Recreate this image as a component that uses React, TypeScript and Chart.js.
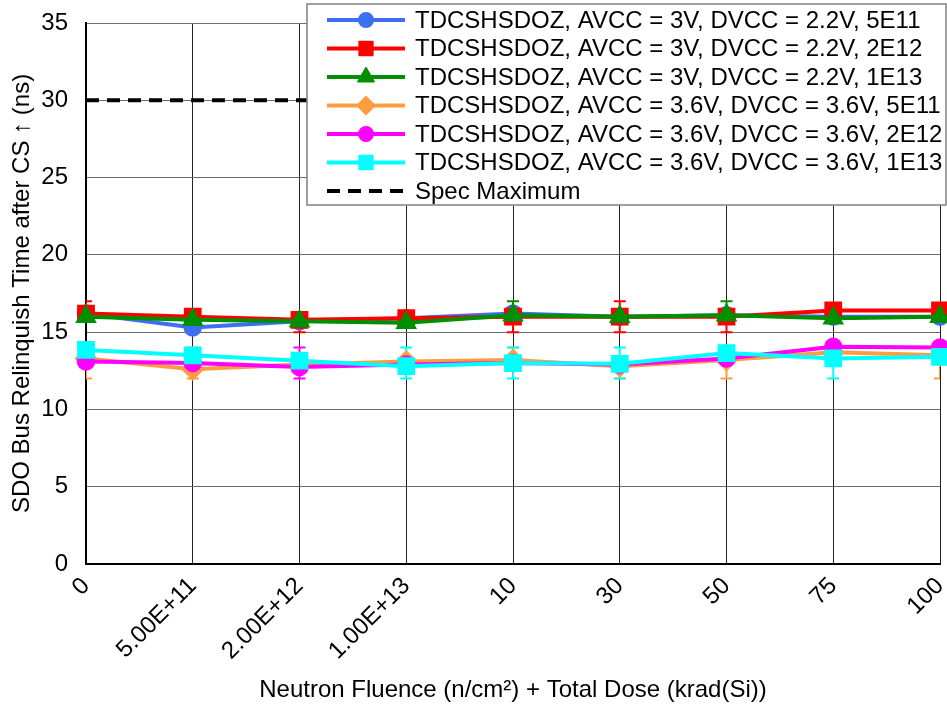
import React, { useEffect, useRef } from 'react';
import { Chart, registerables } from 'chart.js';

Chart.register(...registerables);

const FONT = '"Liberation Sans", Arial, sans-serif';

const categories = ['0', '5.00E+11', '2.00E+12', '1.00E+13', '10', '30', '50', '75', '100'];

const seriesLabels = [
  'TDCSHSDOZ, AVCC = 3V, DVCC = 2.2V, 5E11',
  'TDCSHSDOZ, AVCC = 3V, DVCC = 2.2V, 2E12',
  'TDCSHSDOZ, AVCC = 3V, DVCC = 2.2V, 1E13',
  'TDCSHSDOZ, AVCC = 3.6V, DVCC = 3.6V, 5E11',
  'TDCSHSDOZ, AVCC = 3.6V, DVCC = 3.6V, 2E12',
  'TDCSHSDOZ, AVCC = 3.6V, DVCC = 3.6V, 1E13',
];
const specLabel = 'Spec Maximum';

// Mean relinquish times (ns)
const low5E11 = [16.2, 15.3, 15.7, 15.9, 16.2, 16.0, 16.1, 16.0, 16.0];
const low2E12 = [16.2, 16.0, 15.8, 15.9, 16.0, 16.0, 16.0, 16.4, 16.4];
const low1E13 = [16.0, 15.8, 15.7, 15.6, 16.1, 16.0, 16.1, 15.9, 16.0];
const high5E11 = [13.3, 12.6, 12.9, 13.1, 13.2, 12.8, 13.2, 13.7, 13.5];
const high2E12 = [13.1, 13.0, 12.75, 12.9, 13.0, 12.9, 13.3, 14.05, 14.0];
const high1E13 = [13.85, 13.5, 13.15, 12.8, 13.0, 12.95, 13.65, 13.3, 13.4];
const specMaximum = [30, 30, 30, 30, 30, 30, 30, 30, 30];

// Min / max of each measurement set (null where no bar is shown)
const low5E11Min = [null, null, null, null, null, null, null, null, null];
const low5E11Max = [null, null, null, null, null, null, null, null, null];
const low2E12Min = [null, null, 15, null, 15, 15, 15, null, null];
const low2E12Max = [17, null, null, null, null, 17, null, null, null];
const low1E13Min = [null, null, null, null, null, null, null, null, null];
const low1E13Max = [null, null, null, null, 17, null, 17, null, null];
const high5E11Min = [12, 12, null, null, null, 12, 12, null, 12];
const high5E11Max = [null, 14, null, null, 14, null, null, null, null];
const high2E12Min = [null, null, 12, null, null, null, null, null, null];
const high2E12Max = [null, null, 14, null, null, null, null, null, null];
const high1E13Min = [null, null, null, 12, 12, 12, null, 12, null];
const high1E13Max = [null, null, null, 14, 14, 14, null, null, null];

const yTicks = [0, 5, 10, 15, 20, 25, 30, 35];

const seriesColors = ['#3D6FF2', '#FF0000', '#008F00', '#FF9C3F', '#FF00FF', '#00FFFF'];
const seriesStyles = ['circle', 'rect', 'triangle', 'rectRot', 'circle', 'rect'];
const seriesValues = [low5E11, low2E12, low1E13, high5E11, high2E12, high1E13];
const seriesMin = [low5E11Min, low2E12Min, low1E13Min, high5E11Min, high2E12Min, high1E13Min];
const seriesMax = [low5E11Max, low2E12Max, low1E13Max, high5E11Max, high2E12Max, high1E13Max];

const markerRadius: Record<string, number> = { circle: 8.5, rect: 11.5, triangle: 11, rectRot: 10.5 };

function drawMarker(ctx: CanvasRenderingContext2D, style: string, x: number, y: number, r: number, color: string) {
  ctx.save();
  ctx.fillStyle = color;
  ctx.strokeStyle = color;
  ctx.lineWidth = 1.5;
  ctx.lineJoin = 'round';
  ctx.beginPath();
  if (style === 'circle') {
    ctx.arc(x, y, r, 0, Math.PI * 2);
  } else if (style === 'rect') {
    const s = r * Math.SQRT1_2;
    ctx.rect(x - s, y - s, 2 * s, 2 * s);
  } else if (style === 'triangle') {
    let a = 0;
    ctx.moveTo(x + Math.sin(a) * r, y - Math.cos(a) * r);
    a += (2 * Math.PI) / 3;
    ctx.lineTo(x + Math.sin(a) * r, y - Math.cos(a) * r);
    a += (2 * Math.PI) / 3;
    ctx.lineTo(x + Math.sin(a) * r, y - Math.cos(a) * r);
    ctx.closePath();
  } else if (style === 'rectRot') {
    ctx.moveTo(x, y - r);
    ctx.lineTo(x + r, y);
    ctx.lineTo(x, y + r);
    ctx.lineTo(x - r, y);
    ctx.closePath();
  }
  ctx.fill();
  ctx.stroke();
  ctx.restore();
}

// Vertical min/max bars with caps, drawn under the markers
const errorBarPlugin = {
  id: 'errorBars',
  beforeDatasetsDraw(chart: any) {
    const { ctx, chartArea, scales } = chart;
    ctx.save();
    ctx.beginPath();
    ctx.rect(chartArea.left, chartArea.top, chartArea.right - chartArea.left, chartArea.bottom - chartArea.top);
    ctx.clip();
    chart.data.datasets.forEach((ds: any, i: number) => {
      if (!ds.barMin && !ds.barMax) return;
      const meta = chart.getDatasetMeta(i);
      ctx.strokeStyle = ds.borderColor;
      ctx.lineWidth = 2;
      meta.data.forEach((pt: any, j: number) => {
        [ds.barMin?.[j], ds.barMax?.[j]].forEach((v: number | null) => {
          if (v == null) return;
          const yy = scales.y.getPixelForValue(v);
          ctx.beginPath();
          ctx.moveTo(pt.x, pt.y);
          ctx.lineTo(pt.x, yy);
          ctx.moveTo(pt.x - 6, yy);
          ctx.lineTo(pt.x + 6, yy);
          ctx.stroke();
        });
      });
    });
    ctx.restore();
  },
};

// Boxed legend laid over the top right of the plot
const boxLegendPlugin = {
  id: 'boxLegend',
  afterDraw(chart: any) {
    const ctx: CanvasRenderingContext2D = chart.ctx;
    const left = 307;
    const top = 4;
    const width = 639;
    const height = 201;
    ctx.save();
    ctx.fillStyle = '#ffffff';
    ctx.fillRect(left, top, width, height);
    ctx.strokeStyle = '#808080';
    ctx.lineWidth = 1.5;
    ctx.strokeRect(left, top, width, height);
    ctx.font = `24px ${FONT}`;
    ctx.textBaseline = 'middle';
    ctx.textAlign = 'left';
    const rowH = 28.5;
    const x0 = 327;
    const x1 = 405;
    const xm = (x0 + x1) / 2;
    seriesLabels.forEach((label, i) => {
      const y = 20 + i * rowH;
      ctx.strokeStyle = seriesColors[i];
      ctx.lineWidth = 4;
      ctx.setLineDash([]);
      ctx.beginPath();
      ctx.moveTo(x0, y);
      ctx.lineTo(x1, y);
      ctx.stroke();
      drawMarker(ctx, seriesStyles[i], xm, y, markerRadius[seriesStyles[i]] * 0.85, seriesColors[i]);
      ctx.fillStyle = '#000';
      ctx.fillText(label, 415, y + 1);
    });
    const ys = 20 + seriesLabels.length * rowH;
    ctx.strokeStyle = '#000';
    ctx.lineWidth = 4;
    ctx.setLineDash([13, 8]);
    ctx.beginPath();
    ctx.moveTo(x0, ys);
    ctx.lineTo(x1, ys);
    ctx.stroke();
    ctx.setLineDash([]);
    ctx.fillStyle = '#000';
    ctx.fillText(specLabel, 415, ys + 1);
    ctx.restore();
  },
};

export default function App() {
  const canvasRef = useRef<HTMLCanvasElement | null>(null);

  useEffect(() => {
    if (!canvasRef.current) return;
    const datasets: any[] = [
      {
        label: specLabel,
        data: specMaximum,
        borderColor: '#000',
        backgroundColor: '#000',
        borderWidth: 4,
        borderDash: [13, 8],
        pointRadius: 0,
        order: 10,
        clip: false,
      },
      ...seriesLabels.map((label, i) => ({
        label,
        data: seriesValues[i],
        barMin: seriesMin[i],
        barMax: seriesMax[i],
        borderColor: seriesColors[i],
        backgroundColor: seriesColors[i],
        borderWidth: 4,
        pointStyle: seriesStyles[i],
        pointRadius: markerRadius[seriesStyles[i]],
        pointBorderWidth: 1.5,
        pointBackgroundColor: seriesColors[i],
        pointBorderColor: seriesColors[i],
        tension: 0,
        order: -i,
        clip: false,
      })),
    ];

    const chart = new Chart(canvasRef.current, {
      type: 'line',
      data: { labels: categories, datasets },
      plugins: [errorBarPlugin, boxLegendPlugin],
      options: {
        animation: false,
        responsive: false,
        events: [],
        layout: { autoPadding: false, padding: { left: 0, right: 7, top: 23, bottom: 0 } },
        plugins: {
          legend: { display: false },
          tooltip: { enabled: false },
        },
        scales: {
          x: {
            type: 'category',
            offset: false,
            grid: { color: '#222', lineWidth: 1, drawTicks: false },
            border: { color: '#000', width: 2 },
            ticks: {
              autoSkip: false,
              minRotation: 45,
              maxRotation: 45,
              padding: 8,
              color: '#000',
              font: { family: FONT, size: 24 },
            },
            title: {
              display: true,
              text: 'Neutron Fluence (n/cm²) + Total Dose (krad(Si))',
              color: '#000',
              font: { family: FONT, size: 24 },
              padding: { top: 0, bottom: 1 },
            },
            afterFit(scale: any) {
              scale.height = 142;
              scale.paddingLeft = 0;
              scale.paddingRight = 0;
            },
          },
          y: {
            min: 0,
            max: 35,
            afterBuildTicks(scale: any) {
              scale.ticks = yTicks.map((v) => ({ value: v }));
            },
            grid: { color: '#6a6a6a', lineWidth: 1, drawTicks: false },
            border: { color: '#000', width: 2 },
            ticks: {
              padding: 18,
              color: '#000',
              font: { family: FONT, size: 24 },
            },
            title: {
              display: true,
              text: 'SDO Bus Relinquish Time after CS ↑ (ns)',
              color: '#000',
              font: { family: FONT, size: 24 },
              padding: { top: 8, bottom: 0 },
            },
            afterFit(scale: any) {
              scale.width = 86;
              scale.paddingTop = 0;
              scale.paddingBottom = 0;
            },
          },
        },
      },
    });
    return () => chart.destroy();
  }, []);

  return (
    <div style={{ position: 'fixed', left: 0, top: 0, width: 947, height: 706, background: '#fff' }}>
      <canvas ref={canvasRef} width={947} height={706} style={{ display: 'block' }} />
    </div>
  );
}
